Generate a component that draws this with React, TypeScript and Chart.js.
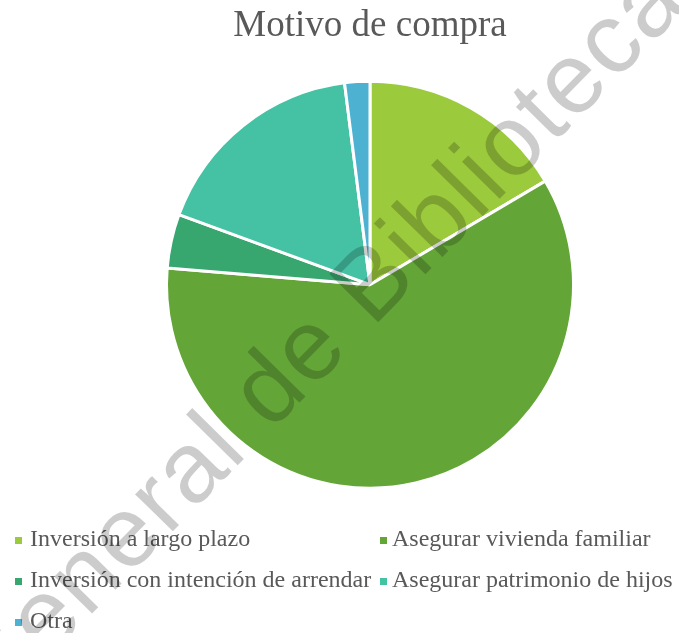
import React, { useEffect, useRef } from "react";
import { Chart, registerables } from "chart.js";

Chart.register(...registerables);

const titleText = "Motivo de compra";
const categories = [
  "Inversión a largo plazo",
  "Asegurar vivienda familiar",
  "Inversión con intención de arrendar",
  "Asegurar patrimonio de hijos",
  "Otra",
];
const values = [16.5, 59.8, 4.3, 17.4, 2.0];
const colors = ["#9BCA3C", "#63A537", "#38A76F", "#45C1A4", "#4DB1D1"];
const watermarkText = "General de Bibliotecas";

const legendPlugin = {
  id: "wordLegend",
  afterDraw(chart: any) {
    const ctx = chart.ctx;
    ctx.save();
    ctx.font = '24px "Liberation Serif"';
    ctx.textBaseline = "alphabetic";
    ctx.textAlign = "left";
    const markerX = [15, 380];
    const textX = [30, 392];
    const rows = [546, 587, 628];
    categories.forEach((label, i) => {
      const col = i % 2;
      const row = Math.floor(i / 2);
      const y = rows[row];
      ctx.fillStyle = colors[i];
      ctx.fillRect(markerX[col], y - 9, 7, 7);
      ctx.fillStyle = "#595959";
      ctx.fillText(label, textX[col], y);
    });
    ctx.restore();
  },
};

const watermarkPlugin = {
  id: "watermark",
  afterDraw(chart: any) {
    const ctx = chart.ctx;
    ctx.save();
    ctx.font = '100px "Liberation Sans"';
    try {
      (ctx as any).letterSpacing = "2px";
    } catch (e) {}
    const ang = (-45.5 * Math.PI) / 180;
    const dx = Math.cos(ang);
    const dy = Math.sin(ang);
    const offs = ctx.measureText("Genera").width + 7;
    const ax = 238 - offs * dx;
    const ay = 465 - offs * dy;
    ctx.translate(ax, ay);
    ctx.rotate(ang);
    ctx.fillStyle = "rgba(0,0,0,0.2)";
    ctx.textBaseline = "alphabetic";
    ctx.textAlign = "left";
    ctx.fillText(watermarkText, 0, 0);
    ctx.restore();
  },
};

export default function App() {
  const ref = useRef<HTMLCanvasElement>(null);
  useEffect(() => {
    document.body.style.margin = "0";
    const chart = new Chart(ref.current as HTMLCanvasElement, {
      type: "pie",
      data: {
        labels: categories,
        datasets: [
          {
            data: values,
            backgroundColor: colors,
            borderColor: "#ffffff",
            borderWidth: 3,
          },
        ],
      },
      options: {
        responsive: false,
        animation: false,
        layout: { padding: { top: 0, left: 165, right: 104, bottom: 143 } },
        plugins: {
          legend: { display: false },
          tooltip: { enabled: false },
          title: {
            display: true,
            text: titleText,
            color: "#595959",
            font: { family: '"Liberation Serif"', size: 37, weight: "normal", lineHeight: 1.2 },
            padding: { top: 4, bottom: 31 },
          },
        },
      },
      plugins: [legendPlugin, watermarkPlugin],
    });
    return () => chart.destroy();
  }, []);
  return (
    <div style={{ width: 679, height: 633 }}>
      <canvas ref={ref} width={679} height={633} style={{ display: "block" }} />
    </div>
  );
}
